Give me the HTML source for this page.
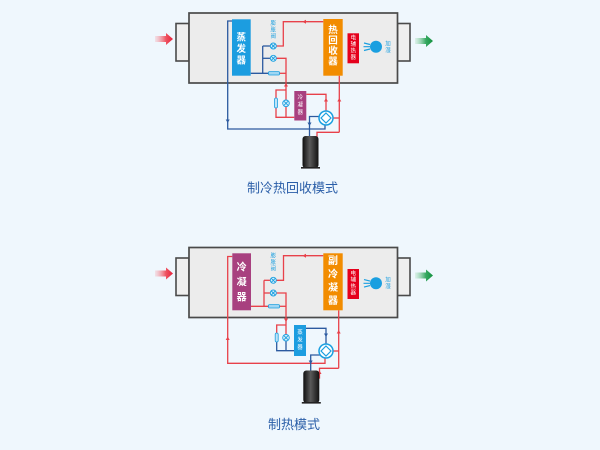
<!DOCTYPE html>
<html><head><meta charset="utf-8"><style>
html,body{margin:0;padding:0;background:#eff7fd;}
svg{display:block;}
text{font-family:"Liberation Sans","Noto Sans CJK SC",sans-serif;text-anchor:middle;dominant-baseline:central;}
.b{font-weight:bold;}
</style></head><body>
<svg width="600" height="450" viewBox="0 0 600 450" xmlns="http://www.w3.org/2000/svg">
<defs>
<linearGradient id="ra" x1="0" x2="1"><stop offset="0" stop-color="#f5b8c0" stop-opacity="0.35"/><stop offset="0.6" stop-color="#ee5562"/><stop offset="1" stop-color="#e8203a"/></linearGradient>
<linearGradient id="ga" x1="0" x2="1"><stop offset="0" stop-color="#b6e3c5" stop-opacity="0.35"/><stop offset="0.6" stop-color="#38a862"/><stop offset="1" stop-color="#12913e"/></linearGradient>
<linearGradient id="cp" x1="0" x2="1"><stop offset="0" stop-color="#0e0e0e"/><stop offset="0.45" stop-color="#5a5a5a"/><stop offset="1" stop-color="#121212"/></linearGradient>
</defs>
<rect width="600" height="450" fill="#eff7fd"/>

<!-- ================= TOP: cooling heat recovery ================= -->
<path d="M155,36 L166,36 L166,33 L173,39 L166,45 L166,42 L155,42 Z" fill="url(#ra)"/>
<path d="M415,38 L426,38 L426,35 L433,41 L426,47 L426,44 L415,44 Z" fill="url(#ga)"/>
<rect x="176" y="23.5" width="13" height="37.5" fill="#efefef" stroke="#4a4a4a" stroke-width="1.6"/>
<rect x="397.5" y="23.5" width="12.5" height="37.5" fill="#efefef" stroke="#4a4a4a" stroke-width="1.6"/>
<rect x="189" y="13" width="208.5" height="70" fill="#ececec" stroke="#4a4a4a" stroke-width="1.7"/>

<g fill="none" stroke="#2c5aa0" stroke-width="1.3">
<polyline points="232,21 227.7,21 227.7,129 325,129 325,125"/>
<polyline points="250.7,73.3 269,73.3"/>
<line x1="262.7" y1="46" x2="262.7" y2="73.3"/>
<line x1="262.7" y1="46" x2="270.3" y2="46"/>
<line x1="262.7" y1="58.3" x2="270.3" y2="58.3"/>
<polyline points="320,116.5 309.5,116.5 309.5,136"/>
</g>
<g fill="#2c5aa0">
<polygon points="225.7,119.5 229.7,119.5 227.7,123"/>
<polygon points="307.5,122.5 311.5,122.5 309.5,126"/>
</g>
<g fill="none" stroke="#e8414a" stroke-width="1.3">
<polyline points="276.3,46 283.3,46 283.3,21.7 323.3,21.7"/>
<polyline points="276.3,58.3 286,58.3 286,117.3"/>
<line x1="279.5" y1="73.3" x2="286" y2="73.3"/>
<polyline points="286,90 276,90 276,117.3 294.3,117.3"/>
<polyline points="306.3,94.3 326,94.3 326,111"/>
<line x1="339.3" y1="75.7" x2="339.3" y2="132.3"/>
<line x1="333" y1="118" x2="339.3" y2="118"/>
<polyline points="339.3,132.3 317,132.3 317,147 314,147"/>
</g>
<g fill="#e8414a">
<polygon points="302.5,21.7 306,19.7 306,23.7"/>
<polygon points="284,86.5 288,86.5 286,83"/>
<polygon points="324,101.5 328,101.5 326,98"/>
<polygon points="337.3,101.5 341.3,101.5 339.3,98"/>
</g>
<!-- components top -->
<rect x="274.5" y="98" width="3" height="10" rx="1.5" fill="#bfe3f7" stroke="#1a9fe0" stroke-width="0.8"/>
<g stroke="#1a9fe0" stroke-width="0.9">
<circle cx="286" cy="103.3" r="3.3" fill="#d6effb"/>
<circle cx="273.3" cy="46" r="3" fill="#d6effb"/>
<circle cx="273.3" cy="58.3" r="3" fill="#d6effb"/>
<path d="M284,101.3 L288,105.3 M288,101.3 L284,105.3 M271.3,44 L275.3,48 M275.3,44 L271.3,48 M271.3,56.3 L275.3,60.3 M275.3,56.3 L271.3,60.3" fill="none"/>
</g>
<rect x="268.5" y="71.6" width="11" height="3.4" rx="1" fill="#9fd6f3" stroke="#1a9fe0" stroke-width="0.8"/>
<circle cx="326" cy="118" r="7" fill="#fff" stroke="#1a9fe0" stroke-width="1.5"/>
<path d="M326,113 L331,118 L326,123 L321,118 Z" fill="none" stroke="#1a9fe0" stroke-width="1.2"/>
<rect x="294.3" y="91" width="12" height="29.5" fill="#a8407f"/>
<text x="300.3" y="98" font-size="5.5" fill="#fff">冷</text>
<text x="300.3" y="105.5" font-size="5.5" fill="#fff">凝</text>
<text x="300.3" y="113" font-size="5.5" fill="#fff">器</text>
<rect x="232" y="19.3" width="18.7" height="56.4" fill="#1c9de0"/>
<text class="b" x="241.3" y="38" font-size="9.5" fill="#fff">蒸</text>
<text class="b" x="241.3" y="49.5" font-size="9.5" fill="#fff">发</text>
<text class="b" x="241.3" y="61" font-size="9.5" fill="#fff">器</text>
<rect x="323.3" y="19" width="19.4" height="56.7" fill="#f28c00"/>
<text class="b" x="333" y="30.5" font-size="9.5" fill="#fff">热</text>
<text class="b" x="333" y="41" font-size="9.5" fill="#fff">回</text>
<text class="b" x="333" y="51.5" font-size="9.5" fill="#fff">收</text>
<text class="b" x="333" y="62" font-size="9.5" fill="#fff">器</text>
<rect x="347.5" y="33.3" width="11.5" height="30" fill="#e5001c"/>
<text x="353.3" y="38.5" font-size="5.5" fill="#fff">电</text>
<text x="353.3" y="45" font-size="5.5" fill="#fff">辅</text>
<text x="353.3" y="51.5" font-size="5.5" fill="#fff">热</text>
<text x="353.3" y="58" font-size="5.5" fill="#fff">器</text>
<circle cx="376" cy="46.7" r="6" fill="#1a9fe0"/>
<path d="M364,43 L370,44.5 M363.5,46.7 L370,46.7 M364,50.5 L370,49" stroke="#1a9fe0" stroke-width="1.2" fill="none"/>
<text x="388" y="44.5" font-size="5.5" fill="#1a9fe0">加</text>
<text x="388" y="51" font-size="5.5" fill="#1a9fe0">湿</text>
<text x="273.3" y="24" font-size="5.5" fill="#1a9fe0">膨</text>
<text x="273.3" y="30.5" font-size="5.5" fill="#1a9fe0">胀</text>
<text x="273.3" y="37" font-size="5.5" fill="#1a9fe0">阀</text>
<rect x="302.5" y="136" width="16" height="32" rx="3" fill="url(#cp)"/>
<rect x="301" y="167" width="19" height="1.6" fill="#222"/>
<text x="292.5" y="188" font-size="13" fill="#2a5ea8">制冷热回收模式</text>

<!-- ================= BOTTOM: heating ================= -->
<path d="M155,270.5 L166,270.5 L166,267.5 L173,273.5 L166,279.5 L166,276.5 L155,276.5 Z" fill="url(#ra)"/>
<path d="M415,272.5 L426,272.5 L426,269.5 L433,275.5 L426,281.5 L426,278.5 L415,278.5 Z" fill="url(#ga)"/>
<rect x="176" y="258" width="13" height="37.5" fill="#efefef" stroke="#4a4a4a" stroke-width="1.6"/>
<rect x="397.5" y="258" width="12.5" height="37.5" fill="#efefef" stroke="#4a4a4a" stroke-width="1.6"/>
<rect x="189" y="247.5" width="208.5" height="70" fill="#ececec" stroke="#4a4a4a" stroke-width="1.7"/>

<g fill="none" stroke="#e8414a" stroke-width="1.3">
<polyline points="232.3,256.5 227.7,256.5 227.7,363.3 325,363.3 325,358"/>
<polyline points="251,306.3 268.5,306.3"/>
<line x1="264" y1="280.3" x2="264" y2="306.3"/>
<line x1="264" y1="280.3" x2="270.3" y2="280.3"/>
<line x1="264" y1="293" x2="270.3" y2="293"/>
<polyline points="276.3,280.3 283.5,280.3 283.5,255.7 323.3,255.7"/>
<polyline points="276.3,293 286,293 286,337.7"/>
<line x1="279.5" y1="306.3" x2="286" y2="306.3"/>
<polyline points="286,325 276.7,325 276.7,333"/>
<line x1="338.7" y1="310.3" x2="338.7" y2="368.3"/>
<line x1="333" y1="351" x2="338.7" y2="351"/>
<polyline points="338.7,368.3 319.5,368.3 319.5,378 318,378"/>
</g>
<g fill="none" stroke="#2c5aa0" stroke-width="1.3">
<polyline points="276.7,342 276.7,350.7 294,350.7"/>
<line x1="286" y1="341" x2="286" y2="350.7"/>
<polyline points="306,328.3 326,328.3 326,344"/>
<polyline points="320,355 310.7,355 310.7,370.5"/>
</g>
<g fill="#e8414a">
<polygon points="225.7,340 229.7,340 227.7,336.5"/>
<polygon points="302.5,255.7 306,253.7 306,257.7"/>
<polygon points="284,318.5 288,318.5 286,322"/>
<polygon points="336.7,333.5 340.7,333.5 338.7,330"/>
<polygon points="317.5,374 321.5,374 319.5,370.5"/>
</g>
<g fill="#2c5aa0">
<polygon points="324,333.5 328,333.5 326,337"/>
<polygon points="308.7,360.5 312.7,360.5 310.7,364"/>
</g>
<rect x="275.2" y="333" width="3" height="9" rx="1.5" fill="#bfe3f7" stroke="#1a9fe0" stroke-width="0.8"/>
<g stroke="#1a9fe0" stroke-width="0.9">
<circle cx="286" cy="337.7" r="3.3" fill="#d6effb"/>
<circle cx="273.3" cy="280.3" r="3" fill="#d6effb"/>
<circle cx="273.3" cy="293" r="3" fill="#d6effb"/>
<path d="M284,335.7 L288,339.7 M288,335.7 L284,339.7 M271.3,278.3 L275.3,282.3 M275.3,278.3 L271.3,282.3 M271.3,291 L275.3,295 M275.3,291 L271.3,295" fill="none"/>
</g>
<rect x="268.5" y="304.6" width="11" height="3.4" rx="1" fill="#9fd6f3" stroke="#1a9fe0" stroke-width="0.8"/>
<circle cx="326" cy="351" r="7" fill="#fff" stroke="#1a9fe0" stroke-width="1.5"/>
<path d="M326,346 L331,351 L326,356 L321,351 Z" fill="none" stroke="#1a9fe0" stroke-width="1.2"/>
<rect x="294" y="325" width="12" height="31" fill="#1c9de0"/>
<text x="300" y="333" font-size="5.5" fill="#fff">蒸</text>
<text x="300" y="340.5" font-size="5.5" fill="#fff">发</text>
<text x="300" y="348" font-size="5.5" fill="#fff">器</text>
<rect x="232.3" y="253.3" width="18.7" height="57" fill="#a8407f"/>
<text class="b" x="241.6" y="268" font-size="10" fill="#fff">冷</text>
<text class="b" x="241.6" y="283" font-size="10" fill="#fff">凝</text>
<text class="b" x="241.6" y="298" font-size="10" fill="#fff">器</text>
<rect x="323.3" y="253.3" width="19.4" height="57" fill="#f28c00"/>
<text class="b" x="333" y="261.7" font-size="10" fill="#fff">副</text>
<text class="b" x="333" y="275" font-size="10" fill="#fff">冷</text>
<text class="b" x="333" y="288.3" font-size="10" fill="#fff">凝</text>
<text class="b" x="333" y="301.5" font-size="10" fill="#fff">器</text>
<rect x="347.5" y="269" width="11.5" height="30" fill="#e5001c"/>
<text x="353.3" y="274" font-size="5.5" fill="#fff">电</text>
<text x="353.3" y="280.5" font-size="5.5" fill="#fff">辅</text>
<text x="353.3" y="287" font-size="5.5" fill="#fff">热</text>
<text x="353.3" y="293.5" font-size="5.5" fill="#fff">器</text>
<circle cx="376" cy="283.3" r="6" fill="#1a9fe0"/>
<path d="M364,279.6 L370,281.1 M363.5,283.3 L370,283.3 M364,287.1 L370,285.6" stroke="#1a9fe0" stroke-width="1.2" fill="none"/>
<text x="388" y="280.5" font-size="5.5" fill="#1a9fe0">加</text>
<text x="388" y="287" font-size="5.5" fill="#1a9fe0">湿</text>
<text x="273.3" y="256.5" font-size="5.5" fill="#1a9fe0">膨</text>
<text x="273.3" y="263" font-size="5.5" fill="#1a9fe0">胀</text>
<text x="273.3" y="269.5" font-size="5.5" fill="#1a9fe0">阀</text>
<rect x="303.3" y="370.5" width="16" height="32.5" rx="3" fill="url(#cp)"/>
<rect x="301.8" y="402" width="19" height="1.6" fill="#222"/>
<text x="294" y="424.5" font-size="13" fill="#2a5ea8">制热模式</text>
</svg>
</body></html>
